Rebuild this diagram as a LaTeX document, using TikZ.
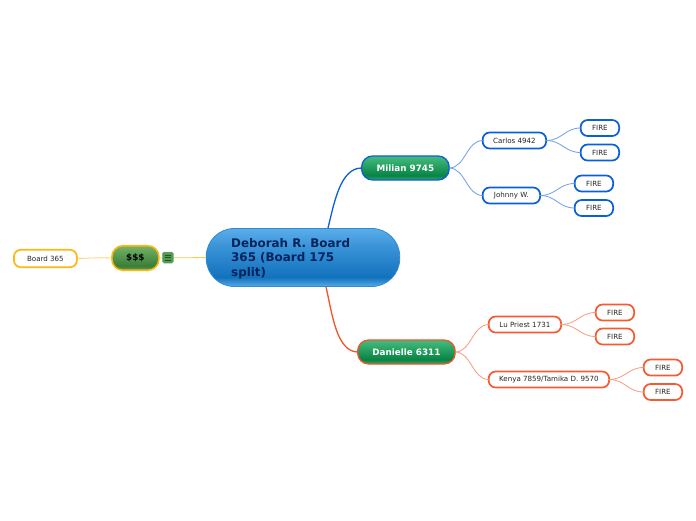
\documentclass[tikz,border=0pt]{standalone}
\usepackage{fontspec}
\setmainfont{DejaVu Sans}
\usetikzlibrary{backgrounds}
\definecolor{blueline}{HTML}{0B5FD8}
\definecolor{blueedge}{HTML}{6E9FE6}
\definecolor{orangeline}{HTML}{F4542A}
\definecolor{orangeedge}{HTML}{F99A80}
\definecolor{yellowline}{HTML}{FDB813}
\definecolor{yellowedge}{HTML}{FDD070}
\definecolor{rootline}{HTML}{3189D0}
\definecolor{roottext}{HTML}{04235C}
\definecolor{rootbot}{HTML}{58ABE8}
\definecolor{rootmid}{HTML}{1272BC}
\definecolor{rootup}{HTML}{3B94D8}
\definecolor{roottop}{HTML}{5AADEA}
\definecolor{grbot}{HTML}{3BA86C}
\definecolor{grmid}{HTML}{078443}
\definecolor{grtop}{HTML}{45BC7F}
\definecolor{mobot}{HTML}{5FA055}
\definecolor{momid}{HTML}{3B7E38}
\definecolor{motop}{HTML}{74B368}
\pgfdeclareverticalshading{rootshade}{100bp}{
  color(0bp)=(rootbot); color(25bp)=(rootbot); color(33bp)=(rootmid); color(60bp)=(rootup); color(75bp)=(roottop); color(100bp)=(roottop)}
\pgfdeclareverticalshading{greenshade}{100bp}{
  color(0bp)=(grbot); color(25bp)=(grbot); color(34bp)=(grmid); color(75bp)=(grtop); color(100bp)=(grtop)}
\pgfdeclareverticalshading{moneyshade}{100bp}{
  color(0bp)=(mobot); color(25bp)=(mobot); color(34bp)=(momid); color(75bp)=(motop); color(100bp)=(motop)}
\tikzset{
  x=1pt,y=-1pt,
  pill/.style={rounded corners=#1,inner sep=0pt,outer sep=0pt,anchor=center},
  box/.style 2 args={pill=7pt,draw=#1,line width=1.7pt,fill=white,minimum width=#2,minimum height=16pt,font=\fontsize{7.1}{8}\selectfont,text=black!85},
  bluebox/.style={box={blueline}{#1}},
  orangebox/.style={box={orangeedge!10!orangeline}{#1}},
  yellowbox/.style={box={yellowline}{#1}},
  mainbox/.style 2 args={pill=11pt,draw=#1,line width=1.3pt,shading=greenshade,minimum width=#2,minimum height=24pt,font=\bfseries\fontsize{8.8}{10}\selectfont,text=white},
  blueedgeline/.style={draw=blueedge,line width=0.8pt},
  orangeedgeline/.style={draw=orangeedge,line width=0.8pt},
  yellowedgeline/.style={draw=yellowedge,line width=0.8pt},
}
\begin{document}
\begin{tikzpicture}
\useasboundingbox (0,0) rectangle (696,520);
% nodes
\node[pill=28pt,draw=rootline,line width=0.8pt,shading=rootshade,minimum width=193.5pt,minimum height=58pt] (root) at (303,257.5) {};
\node[font=\bfseries\fontsize{11.9}{14.5}\selectfont,text=roottext,align=left,anchor=west,inner sep=0pt] (roottext) at (231,258.5) {Deborah R. Board\\365 (Board 175\\split)};
\begin{scope}[shift={(0.4,0.5)}]
\node[mainbox={blueline}{87.5pt}] (milian) at (405,167.5) {Milian 9745};
\node[mainbox={orangeline}{97.5pt}] (danielle) at (406,351.5) {Danielle 6311};
\node[pill=11pt,draw=yellowline,line width=1.6pt,shading=moneyshade,minimum width=47pt,minimum height=24.5pt,font=\bfseries\fontsize{8.8}{10}\selectfont,text=black] (money) at (135,257.5) {\$\$\$};
\node[yellowbox=63pt,minimum height=17.5pt] (board) at (45,258) {Board 365};
\node[pill=1.5pt,fill=green!45!black!70!white,draw=green!40!black!50!white,line width=0.5pt,minimum width=11pt,minimum height=11pt] (icon) at (167.5,257) {};
\draw[black!75,line width=0.7pt] ([xshift=-3pt,yshift=2.5pt]icon.center) -- ([xshift=3pt,yshift=2.5pt]icon.center)
  ([xshift=-3pt]icon.center) -- ([xshift=3pt]icon.center)
  ([xshift=-3pt,yshift=-2.5pt]icon.center) -- ([xshift=3pt,yshift=-2.5pt]icon.center);
\node[bluebox=63.5pt] (carlos) at (514,140) {Carlos 4942};
\node[bluebox=38.5pt] (f1) at (599.5,127.5) {FIRE};
\node[bluebox=38.5pt] (f2) at (599.5,152) {FIRE};
\node[bluebox=57.5pt] (johnny) at (511,195) {Johnny W.};
\node[bluebox=38.5pt] (f3) at (593.5,183) {FIRE};
\node[bluebox=38.5pt] (f4) at (593.5,207.5) {FIRE};
\node[orangebox=72.5pt] (lu) at (524.5,324) {Lu Priest 1731};
\node[orangebox=38.5pt] (f5) at (614.5,312) {FIRE};
\node[orangebox=38.5pt] (f6) at (614.5,336) {FIRE};
\node[orangebox=120.5pt] (kenya) at (548.5,379) {Kenya 7859/Tamika D. 9570};
\node[orangebox=38.5pt] (f7) at (662.5,367) {FIRE};
\node[orangebox=38.5pt] (f8) at (662.5,391.5) {FIRE};
\end{scope}
\coordinate (rootN) at (328,228);
\coordinate (rootS) at (326,287);
% connectors
\begin{scope}[on background layer]
\fill[white] (0,0) rectangle (696,520);
\draw[draw=yellowline!75!white,line width=0.8pt] (root.west) -- (money.east);
\end{scope}
\draw[yellowedgeline] (money.west) .. controls (97,257.5) and (95,258) .. (board.east);
\draw[draw=blueline,line width=1.3pt] (rootN) .. controls (334,204) and (340,168) .. (milian.west);
\draw[draw=orangeline,line width=1.3pt] (rootS) .. controls (332,312) and (336,351.5) .. (danielle.west);
\foreach \a/\b in {milian/carlos,milian/johnny,carlos/f1,carlos/f2,johnny/f3,johnny/f4}
  \draw[blueedgeline] (\a.east) .. controls ([xshift=16pt]\a.east) and ([xshift=-16pt]\b.west) .. (\b.west);
\foreach \a/\b in {danielle/lu,danielle/kenya,lu/f5,lu/f6,kenya/f7,kenya/f8}
  \draw[orangeedgeline] (\a.east) .. controls ([xshift=16pt]\a.east) and ([xshift=-16pt]\b.west) .. (\b.west);
\end{tikzpicture}
\end{document}
